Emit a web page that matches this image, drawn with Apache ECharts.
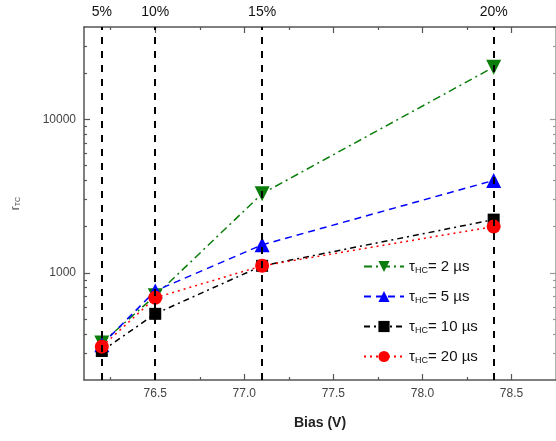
<!DOCTYPE html>
<html><head><meta charset="utf-8">
<script src="https://cdn.jsdelivr.net/npm/echarts@6/dist/echarts.min.js"></script>
<style>html,body{margin:0;padding:0;background:#fff}#c{width:556px;height:441px}</style>
</head><body><div id="c"></div>
<script>
const bias = [76.2, 76.5, 77.1, 78.4];
const tau2 = [349, 708, 3280, 21900];
const tau5 = [340, 762, 1520, 4000];
const tau10 = [309, 540, 1110, 2220];
const tau20 = [330, 687, 1110, 2000];
const seriesNames = ['2', '5', '10', '20'];
const guideX = [76.2, 76.5, 77.1, 78.4];
const guideLabels = ['5%', '10%', '15%', '20%'];
const xMajor = [76.5, 77.0, 77.5, 78.0, 78.5];
const xMinor = [76.25, 76.75, 77.25, 77.75, 78.25];
const yMajor = [1000, 10000];
const yMinor = [300, 400, 500, 600, 700, 800, 900, 2000, 3000, 4000, 5000, 6000, 7000, 8000, 9000, 20000, 30000];

const FONT = 'Liberation Sans, Arial, sans-serif';
const axisColor = '#555';

function xAx(pos, ticks, len, showLine, labels, color) {
  return {
    type: 'value', position: pos, min: 76.1, max: 78.75,
    axisLine: {show: showLine, onZero: false, lineStyle: {color: color || axisColor, width: 1.5}},
    axisTick: {show: true, inside: true, length: len, customValues: ticks, lineStyle: {color: color || axisColor, width: 1.2}},
    axisLabel: labels ? {show: true, customValues: xMajor, formatter: v => v.toFixed(1), color: '#444', fontSize: 12, fontFamily: FONT, margin: 8} : {show: false},
    splitLine: {show: false}
  };
}
function yAx(pos, ticks, len, showLine, labels, color) {
  return {
    type: 'log', logBase: 10, position: pos, min: 200, max: 40000,
    axisLine: {show: showLine, onZero: false, lineStyle: {color: color || axisColor, width: 1.5}},
    axisTick: {show: true, inside: true, length: len, customValues: ticks, lineStyle: {color: color || axisColor, width: 1.2}},
    axisLabel: labels ? {show: true, customValues: yMajor, formatter: v => String(Math.round(v)), color: '#444', fontSize: 12, fontFamily: FONT, margin: 8} : {show: false},
    splitLine: {show: false},
    name: labels ? '{r|r}{s|TC}' : '',
    nameLocation: 'middle', nameGap: 62, nameRotate: 90,
    nameTextStyle: {rich: {r: {fontSize: 12, color: '#555', fontFamily: FONT}, s: {fontSize: 7, color: '#555', fontFamily: FONT, verticalAlign: 'bottom', padding: [6, 0, 0, 0]}}}
  };
}

const xAxes = [
  Object.assign(xAx('bottom', xMajor, 6, true, true), {name: 'Bias (V)', nameLocation: 'middle', nameGap: 36, nameTextStyle: {fontSize: 14, fontWeight: 'bold', color: '#222', fontFamily: FONT}}),
  xAx('bottom', xMinor, 3, false, false),
  xAx('top', xMajor, 6, true, false),
  xAx('top', xMinor, 3, false, false)
];
const yAxes = [
  yAx('left', yMajor, 6, true, true),
  yAx('left', yMinor, 3, false, false),
  yAx('right', yMajor, 6, true, false, '#999'),
  yAx('right', yMinor, 3, false, false, '#999')
];

function mk(name, vals, color, symbol, size, dash) {
  return {
    name: name, type: 'line', xAxisIndex: 0, yAxisIndex: 0,
    data: bias.map((b, i) => [b, vals[i]]),
    symbol: symbol, symbolSize: size,
    itemStyle: {color: color},
    lineStyle: {color: color, width: 1.5, type: dash},
    z: 3
  };
}

const series = [
  mk(seriesNames[0], tau2, '#0a7d0a', 'path://M0,0 L10,0 L5,9 Z', 15, [8, 4, 2, 4]),
  mk(seriesNames[1], tau5, '#0000ff', 'triangle', 15, [7, 5]),
  mk(seriesNames[2], tau10, '#000000', 'rect', 12, [6, 4, 2, 4]),
  mk(seriesNames[3], tau20, '#ff0000', 'circle', 14, [2, 4]),
  {
    type: 'line', xAxisIndex: 0, yAxisIndex: 0, data: [], silent: true, z: 5,
    markLine: {
      symbol: 'none', silent: true,
      lineStyle: {color: '#000', width: 2, type: [7, 7]},
      label: {show: true, position: 'end', distance: 8, fontSize: 14, color: '#111', fontFamily: FONT, formatter: p => guideLabels[guideX.indexOf(p.value)]},
      data: guideX.map(v => ({xAxis: v}))
    }
  }
];

const chart = echarts.init(document.getElementById('c'), null, {renderer: 'canvas'});
chart.setOption({
  animation: false,
  backgroundColor: '#fff',
  grid: {left: 84, top: 27, width: 477, height: 353, containLabel: false},
  xAxis: xAxes,
  yAxis: yAxes,
  legend: {
    show: true, orient: 'vertical', left: 358, top: 254, itemGap: 14, itemWidth: 40, itemHeight: 14,
    data: seriesNames,
    formatter: n => '{t|τ}{s|HC}{t|= ' + n + ' µs}',
    textStyle: {rich: {t: {fontSize: 15, color: '#111', fontFamily: FONT}, s: {fontSize: 9, color: '#111', fontFamily: FONT, verticalAlign: 'bottom', padding: [8, 0, 0, 0]}}}
  },
  series: series
});
</script></body></html>
